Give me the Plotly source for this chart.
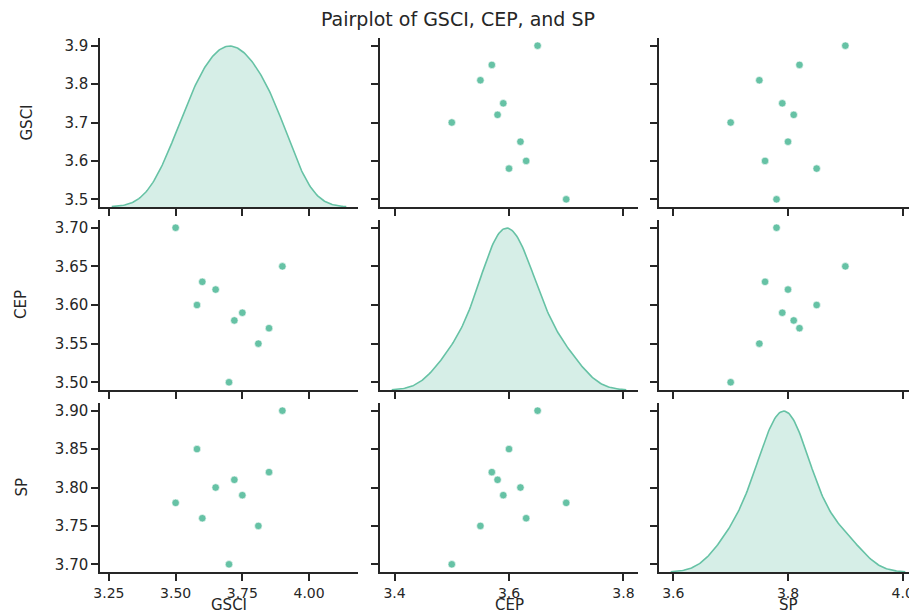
import numpy as np
import plotly.graph_objects as go

# ---------------- data ----------------
variables = ["GSCI", "CEP", "SP"]
gsci = [3.90, 3.85, 3.81, 3.75, 3.72, 3.70, 3.65, 3.60, 3.58, 3.50]
cep = [3.65, 3.57, 3.55, 3.59, 3.58, 3.50, 3.62, 3.63, 3.60, 3.70]
sp = [3.90, 3.82, 3.75, 3.79, 3.81, 3.70, 3.80, 3.76, 3.85, 3.78]

gsci_xticks = [3.25, 3.50, 3.75, 4.00]
gsci_xlabels = ["3.25", "3.50", "3.75", "4.00"]
cep_xticks = [3.4, 3.6, 3.8]
cep_xlabels = ["3.4", "3.6", "3.8"]
sp_xticks = [3.6, 3.8, 4.0]
sp_xlabels = ["3.6", "3.8", "4.0"]

gsci_yticks = [3.5, 3.6, 3.7, 3.8, 3.9]
gsci_ylabels = ["3.5", "3.6", "3.7", "3.8", "3.9"]
cep_yticks = [3.50, 3.55, 3.60, 3.65, 3.70]
cep_ylabels = ["3.50", "3.55", "3.60", "3.65", "3.70"]
sp_yticks = [3.70, 3.75, 3.80, 3.85, 3.90]
sp_ylabels = ["3.70", "3.75", "3.80", "3.85", "3.90"]

series = [gsci, cep, sp]
xticks = [(gsci_xticks, gsci_xlabels), (cep_xticks, cep_xlabels), (sp_xticks, sp_xlabels)]
yticks = [(gsci_yticks, gsci_ylabels), (cep_yticks, cep_ylabels), (sp_yticks, sp_ylabels)]

# ---------------- style / layout ----------------
OFF = 8  # page body margin
W, H = 917 - OFF, 612 - OFF
COLOR = "#66c2a5"
FILL = "rgba(102,194,165,0.27)"
INK = "#262626"
FONT = "DejaVu Sans"
col_px = [(100, 358), (380, 638), (659, 917)]
row_px = [(38, 207), (220, 390), (403, 572)]
ytitle_px = [27, 21, 21]     # centre x of the y-axis titles
xtitle_px = 605              # centre y of the x-axis titles


def kde(vals):
    v = np.asarray(vals, dtype=float)
    n = len(v)
    bw = v.std(ddof=1) * n ** (-1 / 5)
    grid = np.linspace(v.min() - 3 * bw, v.max() + 3 * bw, 200)
    dens = np.exp(-0.5 * ((grid[:, None] - v[None, :]) / bw) ** 2).sum(1) / (n * bw * np.sqrt(2 * np.pi))
    return grid, dens


kdes = [kde(s) for s in series]
xranges = []
for g, d in kdes:
    lo, hi = g[0], g[-1]
    pad = 0.05 * (hi - lo)
    xranges.append([lo - pad, hi + pad])
yranges = []
for s in series:
    lo, hi = min(s), max(s)
    pad = 0.05 * (hi - lo)
    yranges.append([lo - pad, hi + pad])


def px_x(p):
    return (p - OFF) / W


def px_y(p):
    return 1 - (p - OFF) / H


def xdom(c):
    a, b = col_px[c]
    return [px_x(a), min(1.0, px_x(b))]


def ydom(r):
    a, b = row_px[r]
    return [px_y(b), px_y(a)]


fig = go.Figure()
layout = {}
annotations = []

for r in range(3):
    for c in range(3):
        k = r * 3 + c + 1
        xname = "xaxis" if k == 1 else f"xaxis{k}"
        yname = "yaxis" if k == 1 else f"yaxis{k}"
        xref = "x" if k == 1 else f"x{k}"
        yref = "y" if k == 1 else f"y{k}"
        common = dict(
            showline=True, linecolor=INK, linewidth=1.5,
            ticks="outside", ticklen=7, tickwidth=1.5, tickcolor=INK,
            showgrid=False, zeroline=False, automargin=False,
        )
        layout[xname] = dict(
            common, domain=xdom(c), anchor=yref,
            range=xranges[c], tickvals=xticks[c][0], ticktext=xticks[c][1],
            showticklabels=(r == 2),
            tickfont=dict(family=FONT, size=14, color=INK),
        )
        layout[yname] = dict(
            common, domain=ydom(r), anchor=xref,
            range=yranges[r], tickvals=yticks[r][0], ticktext=yticks[r][1],
            showticklabels=(c == 0),
            tickfont=dict(family=FONT, size=15, color=INK),
        )
        if r != c:
            fig.add_trace(go.Scatter(
                x=series[c], y=series[r], xaxis=xref, yaxis=yref, mode="markers",
                marker=dict(color=COLOR, size=7.5, line=dict(color="white", width=0.6)),
                showlegend=False, hoverinfo="x+y",
            ))
        else:
            # empty trace so that the row-shared axes of the diagonal cell are drawn
            fig.add_trace(go.Scatter(x=[], y=[], xaxis=xref, yaxis=yref, mode="markers",
                                     showlegend=False, hoverinfo="skip"))

# axis titles
for i, name in enumerate(variables):
    a, b = col_px[i]
    annotations.append(dict(
        text=name, xref="paper", yref="paper", x=px_x((a + b) / 2), y=px_y(xtitle_px),
        xanchor="center", yanchor="middle", showarrow=False,
        font=dict(family=FONT, size=15, color=INK)))
    a, b = row_px[i]
    annotations.append(dict(
        text=name, xref="paper", yref="paper", x=px_x(ytitle_px[i]), y=px_y((a + b) / 2),
        xanchor="center", yanchor="middle", textangle=-90, showarrow=False,
        font=dict(family=FONT, size=15, color=INK)))

# KDE curves on hidden axes occupying the diagonal cells
for r in range(3):
    g, d = kdes[r]
    kx, ky = 10 + r, 10 + r
    layout[f"xaxis{kx}"] = dict(domain=xdom(r), anchor=f"y{ky}", range=xranges[r],
                                visible=False, showgrid=False, zeroline=False, automargin=False)
    layout[f"yaxis{ky}"] = dict(domain=ydom(r), anchor=f"x{kx}", range=[0, 1.05 * float(d.max())],
                                visible=False, showgrid=False, zeroline=False, automargin=False)
    fig.add_trace(go.Scatter(
        x=g, y=d, xaxis=f"x{kx}", yaxis=f"y{ky}", mode="lines",
        line=dict(color=COLOR, width=1.6), fill="tozeroy", fillcolor=FILL,
        showlegend=False, hoverinfo="x",
    ))

fig.update_layout(
    width=W, height=H,
    margin=dict(l=0, r=0, t=0, b=0, autoexpand=False),
    paper_bgcolor="white", plot_bgcolor="rgba(0,0,0,0)",
    title=dict(text="Pairplot of GSCI, CEP, and SP", x=px_x(458), xanchor="center",
               y=1 - (19 - OFF) / H, yanchor="middle", yref="container",
               font=dict(family=FONT, size=19, color=INK)),
    annotations=annotations,
    **layout,
)

fig.write_html("out.html")
